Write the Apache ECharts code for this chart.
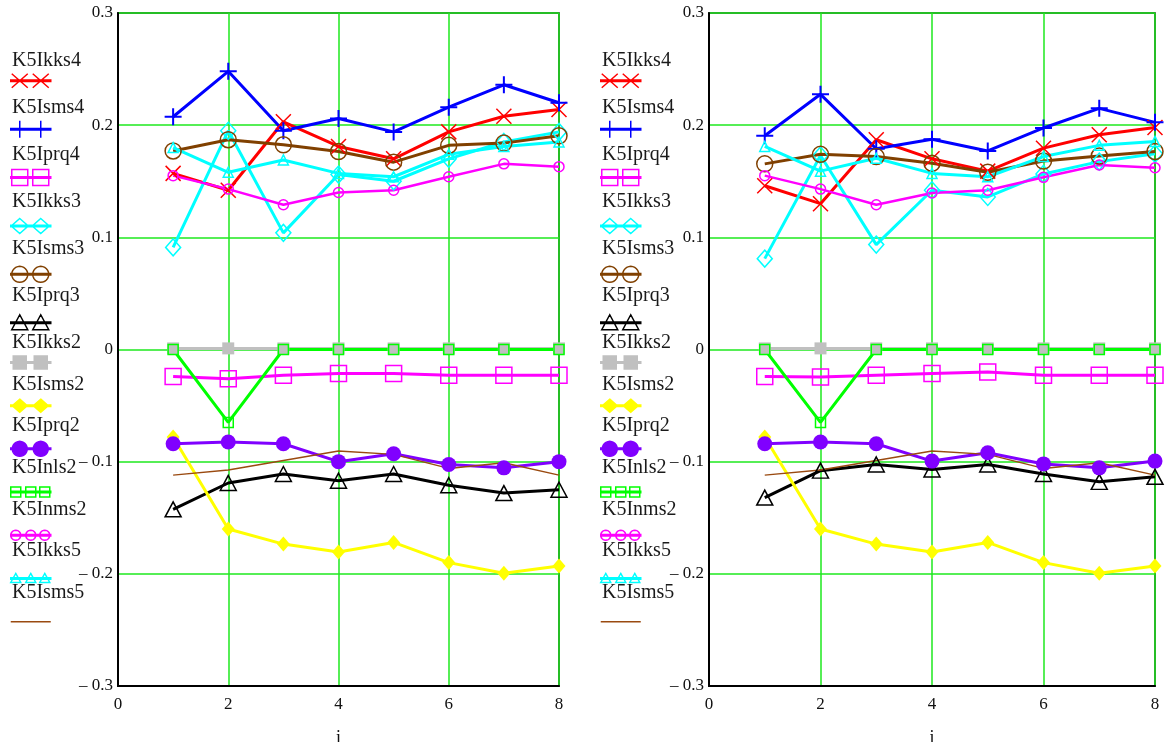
<!DOCTYPE html>
<html><head><meta charset="utf-8">
<script src="https://cdn.jsdelivr.net/npm/echarts@6/dist/echarts.min.js"></script>
<style>html,body{margin:0;padding:0;background:#fff}#c{width:1167px;height:742px}</style>
</head><body><div id="c"></div>
<script>
// ---------------- DATA ----------------
const seriesNames = ['K5Ikks4','K5Isms4','K5Iprq4','K5Ikks3','K5Isms3','K5Iprq3','K5Ikks2','K5Isms2','K5Iprq2','K5Inls2','K5Inms2','K5Ikks5','K5Isms5'];
const iValues = [1, 2, 3, 4, 5, 6, 7, 8];
const xTickValues = [0, 2, 4, 6, 8];
const yTickValues = [-0.3, -0.2, -0.1, 0, 0.1, 0.2, 0.3];

// left panel
const K5Ikks4_L = [0.157, 0.142, 0.203, 0.181, 0.170, 0.194, 0.208, 0.214];
const K5Isms4_L = [0.2075, 0.248, 0.195, 0.206, 0.194, 0.216, 0.236, 0.220];
const K5Iprq4_L = [-0.024, -0.026, -0.023, -0.0215, -0.0215, -0.023, -0.023, -0.023];
const K5Ikks3_L = [0.091, 0.195, 0.104, 0.156, 0.150, 0.170, 0.185, 0.194];
const K5Isms3_L = [0.177, 0.187, 0.1825, 0.1765, 0.167, 0.182, 0.184, 0.1905];
const K5Iprq3_L = [-0.1425, -0.119, -0.111, -0.117, -0.111, -0.121, -0.128, -0.125];
const K5Ikks2_L = [0.001, 0.001, 0.001, 0.001, 0.001, 0.001, 0.001, 0.001];
const K5Isms2_L = [-0.078, -0.160, -0.1735, -0.1805, -0.172, -0.190, -0.1995, -0.193];
const K5Iprq2_L = [-0.084, -0.0825, -0.084, -0.100, -0.093, -0.1025, -0.1055, -0.100];
const K5Inls2_L = [0, -0.065, 0, 0, 0, 0, 0, 0];
const K5Inms2_L = [0.155, 0.143, 0.129, 0.140, 0.142, 0.154, 0.1655, 0.163];
const K5Ikks5_L = [0.180, 0.158, 0.169, 0.157, 0.154, 0.174, 0.181, 0.185];
const K5Isms5_L = [-0.112, -0.1075, -0.099, -0.0905, -0.0935, -0.106, -0.101, -0.112];

// right panel
const K5Ikks4_R = [0.146, 0.130, 0.187, 0.170, 0.159, 0.1795, 0.1915, 0.198];
const K5Isms4_R = [0.1905, 0.2275, 0.179, 0.1875, 0.177, 0.1975, 0.215, 0.2025];
const K5Iprq4_R = [-0.024, -0.0245, -0.023, -0.0215, -0.020, -0.023, -0.023, -0.023];
const K5Ikks3_R = [0.081, 0.173, 0.0935, 0.142, 0.136, 0.1565, 0.1675, 0.1745];
const K5Isms3_R = [0.1655, 0.174, 0.172, 0.166, 0.158, 0.168, 0.1725, 0.1765];
const K5Iprq3_R = [-0.132, -0.108, -0.1025, -0.107, -0.1025, -0.111, -0.118, -0.1135];
const K5Ikks2_R = [0.001, 0.001, 0.001, 0.001, 0.001, 0.001, 0.001, 0.001];
const K5Isms2_R = [-0.078, -0.160, -0.1735, -0.1805, -0.172, -0.190, -0.1995, -0.193];
const K5Iprq2_R = [-0.084, -0.0825, -0.084, -0.0995, -0.092, -0.102, -0.1055, -0.0995];
const K5Inls2_R = [0, -0.065, 0, 0, 0, 0, 0, 0];
const K5Inms2_R = [0.155, 0.143, 0.129, 0.1395, 0.142, 0.1535, 0.1645, 0.162];
const K5Ikks5_R = [0.181, 0.159, 0.1705, 0.157, 0.154, 0.172, 0.182, 0.1855];
const K5Isms5_R = [-0.112, -0.1075, -0.099, -0.0905, -0.0935, -0.106, -0.101, -0.112];

const leftData = [K5Ikks4_L, K5Isms4_L, K5Iprq4_L, K5Ikks3_L, K5Isms3_L, K5Iprq3_L, K5Ikks2_L, K5Isms2_L, K5Iprq2_L, K5Inls2_L, K5Inms2_L, K5Ikks5_L, K5Isms5_L];
const rightData = [K5Ikks4_R, K5Isms4_R, K5Iprq4_R, K5Ikks3_R, K5Isms3_R, K5Iprq3_R, K5Ikks2_R, K5Isms2_R, K5Iprq2_R, K5Inls2_R, K5Inms2_R, K5Ikks5_R, K5Isms5_R];

// ---------------- STYLES ----------------
const FONT = '"Liberation Serif", "Times New Roman", serif';
const GRIDGREEN = '#1ee81e';
const X_SYM = 'path://M0 0L10 10M10 0L0 10';
const PLUS_SYM = 'path://M5 0L5 10M0 5L10 5';
const styles = [
  {color:'#ff0000', symbol:X_SYM, size:15, lw:3, filled:false, mk:'x', n:2, bw:1.5, ih:8},
  {color:'#0000ff', symbol:PLUS_SYM, size:17, lw:3, filled:false, mk:'plus', n:2, bw:2, ih:8.5},
  {color:'#ff00ff', symbol:'rect', size:16, lw:3, filled:false, mk:'square', n:2, bw:1.5, ih:8},
  {color:'#00ffff', symbol:'diamond', size:[15,17], lw:3, filled:false, mk:'diamond', n:2, bw:1.5, ih:8.5},
  {color:'#804000', symbol:'circle', size:16, lw:3, filled:false, mk:'circle', n:2, bw:1.5, ih:8},
  {color:'#000000', symbol:'triangle', size:[16,15], lw:3, filled:false, mk:'triangle', n:2, bw:1.5, ih:8},
  {color:'#c0c0c0', symbol:'rect', size:12, lw:3, filled:true, mk:'square', n:2, bw:0, ih:6.5},
  {color:'#ffff00', symbol:'diamond', size:[13,15], lw:3, filled:true, mk:'diamond', n:2, bw:0, ih:7.5},
  {color:'#8000ff', symbol:'circle', size:15, lw:3, filled:true, mk:'circle', n:2, bw:0, ih:7.5},
  {color:'#00ff00', symbol:'rect', size:10, lw:3, filled:false, mk:'square', n:3, bw:1.5, ih:5},
  {color:'#ff00ff', symbol:'circle', size:10, lw:2.5, filled:false, mk:'circle', n:3, bw:1.5, ih:5},
  {color:'#00ffff', symbol:'triangle', size:10, lw:3, filled:false, mk:'triangle', n:3, bw:1.5, ih:5},
  {color:'#9a4a10', symbol:'none', size:0, lw:1.5, filled:false, mk:'none', n:0, bw:1.5, ih:0}
];

// legend icon paths in a 40x20 box
function markPath(kind, cx, h) {
  const cy = 10;
  switch (kind) {
    case 'x': return `M${cx-h} ${cy-h+1}L${cx+h} ${cy+h-1}M${cx+h} ${cy-h+1}L${cx-h} ${cy+h-1}`;
    case 'plus': return `M${cx-h} ${cy}L${cx+h} ${cy}M${cx} ${cy-h}L${cx} ${cy+h}`;
    case 'square': return `M${cx-h} ${cy-h}L${cx+h} ${cy-h}L${cx+h} ${cy+h}L${cx-h} ${cy+h}Z`;
    case 'diamond': return `M${cx} ${cy-h+1}L${cx+h} ${cy}L${cx} ${cy+h-1}L${cx-h} ${cy}Z`;
    case 'triangle': return `M${cx} ${cy-h}L${cx+h} ${cy+h-1}L${cx-h} ${cy+h-1}Z`;
    case 'circle': {
      let s = '';
      for (let k = 0; k <= 24; k++) {
        const a = k / 24 * Math.PI * 2;
        s += (k === 0 ? 'M' : 'L') + (cx + h * Math.cos(a)).toFixed(2) + ' ' + (cy + h * Math.sin(a)).toFixed(2);
      }
      return s + 'Z';
    }
  }
  return '';
}
function iconPath(st) {
  let p = 'M0 0M40 20';
  if (st.mk === 'none') return 'path://' + p + 'M0 10L40 10';
  p += 'M0 9.25L40 9.25L40 10.75L0 10.75Z';
  const centers = st.n === 2 ? [9, 30] : [5, 20, 34];
  centers.forEach(c => { p += markPath(st.mk, c, st.ih); });
  return 'path://' + p;
}

// ---------------- OPTION ----------------
const grids = [
  {left:118, right:608, top:13, bottom:56},
  {left:709, right:12, top:13, bottom:56}
];
function yFmt(v) {
  const r = Math.round(v * 10) / 10;
  if (r === 0) return '0';
  return r < 0 ? '\u2013 ' + Math.abs(r).toFixed(1) : r.toFixed(1);
}
const xAxes = grids.map((g, k) => ({
  type:'value', gridIndex:k, min:xTickValues[0], max:xTickValues[xTickValues.length-1], interval:2,
  axisLine:{show:true, onZero:false, lineStyle:{color:'#000', width:2}},
  axisTick:{show:false},
  axisLabel:{color:'#111', fontFamily:FONT, fontSize:17, margin:10},
  splitLine:{show:true, lineStyle:{color:GRIDGREEN, width:1.5}},
  name:'i', nameLocation:'middle', nameGap:43,
  nameTextStyle:{color:'#111', fontFamily:FONT, fontSize:18}
}));
const yAxes = grids.map((g, k) => ({
  type:'value', gridIndex:k, min:yTickValues[0], max:yTickValues[yTickValues.length-1], interval:0.1,
  axisLine:{show:true, onZero:false, lineStyle:{color:'#000', width:2}},
  axisTick:{show:false},
  axisLabel:{color:'#111', fontFamily:FONT, fontSize:17, margin:5, formatter:yFmt},
  splitLine:{show:true, lineStyle:{color:GRIDGREEN, width:1.5}}
}));

const series = [];
[leftData, rightData].forEach((panel, p) => {
  panel.forEach((vals, k) => {
    const st = styles[k];
    series.push({
      type:'line', name:seriesNames[k], xAxisIndex:p, yAxisIndex:p,
      data: iValues.map((x, j) => [x, vals[j]]),
      symbol: st.symbol, symbolSize: st.size, showSymbol: st.symbol !== 'none',
      lineStyle:{color:st.color, width:st.lw},
      itemStyle:{color: st.filled ? st.color : 'rgba(0,0,0,0)', borderColor: st.color, borderWidth: st.bw},
      emphasis:{disabled:true}, animation:false, silent:true, clip:true
    });
  });
});

// legends: two groups per panel; icon legend + text legend
const groups = [
  {from:0, to:6, iconTop:70, gap:26.9},
  {from:6, to:13, iconTop:351.7, gap:21.7}
];
const panelX = [10, 600];
const legends = [];
panelX.forEach(px => {
  groups.forEach(g => {
    const idx = [];
    for (let k = g.from; k < g.to; k++) idx.push(k);
    legends.push({
      orient:'vertical', left:px, top:g.iconTop, padding:0, itemWidth:40, itemHeight:20, itemGap:g.gap,
      selectedMode:false, formatter:() => '',
      data: idx.map(k => ({
        name: seriesNames[k], icon: iconPath(styles[k]),
        itemStyle:{color: styles[k].filled ? styles[k].color : 'rgba(0,0,0,0)', borderColor: styles[k].color, borderWidth: 1.5}
      }))
    });
    legends.push({
      orient:'vertical', left:px - 3, top:g.iconTop - 19, padding:0, itemWidth:0, itemHeight:20, itemGap:g.gap,
      selectedMode:false, icon:'none',
      textStyle:{color:'#1a1a1a', fontFamily:FONT, fontSize:20, lineHeight:20},
      data: idx.map(k => ({name: seriesNames[k], icon:'none'}))
    });
  });
});

const option = {
  backgroundColor:'#fff',
  animation:false,
  grid: grids.map(g => Object.assign({show:true, borderColor:'#000', borderWidth:1.5, backgroundColor:'transparent', outerBoundsMode:'none', containLabel:false}, g)),
  xAxis: xAxes,
  yAxis: yAxes,
  legend: legends,
  series: series
};
const chart = echarts.init(document.getElementById('c'), null, {renderer:'canvas'});
chart.setOption(option);
</script>
</body></html>
